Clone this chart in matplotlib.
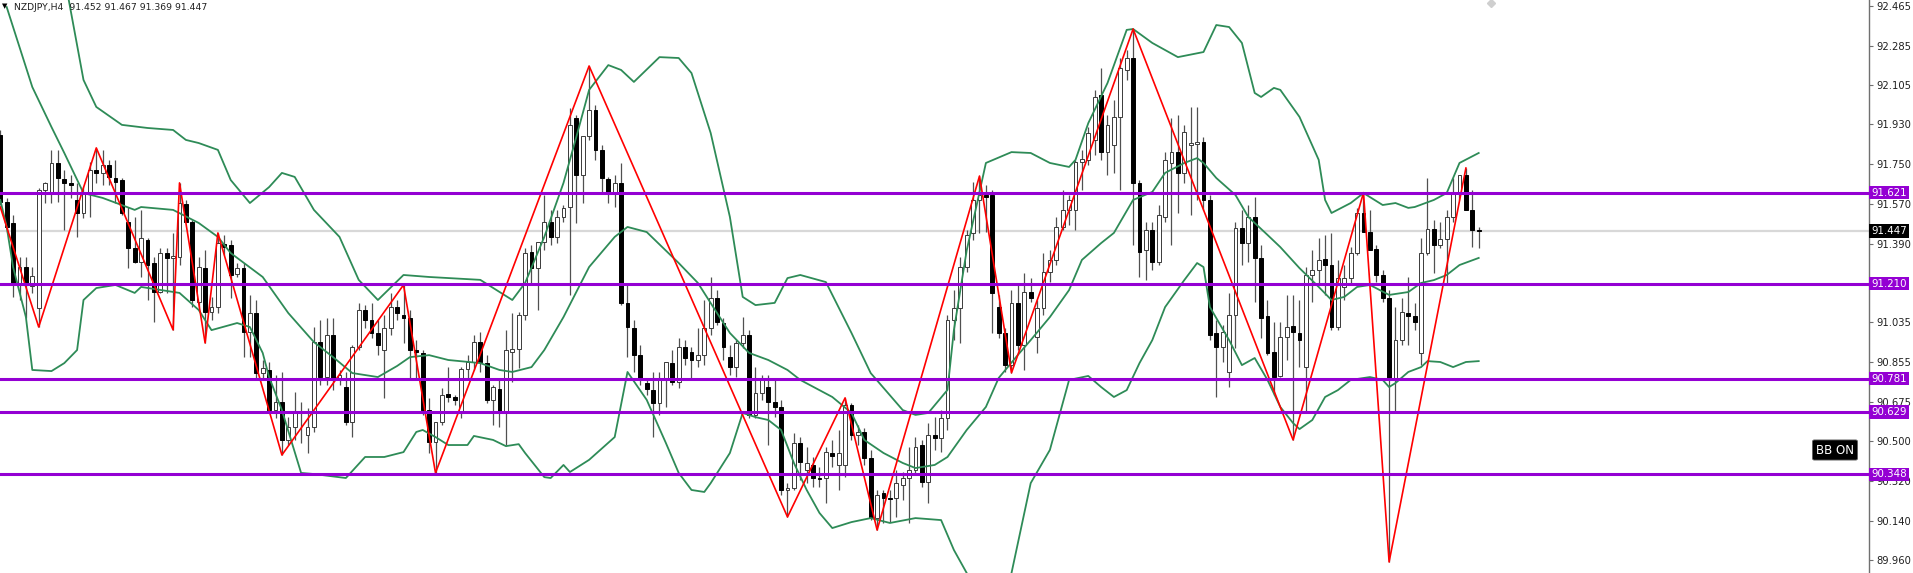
import matplotlib
matplotlib.use("Agg")
import matplotlib.pyplot as plt
import matplotlib.transforms as mtransforms

# NZDJPY H4 candles (bar index 0..231)
opens = [91.882, 91.579, 91.484, 91.213, 91.285, 91.199, 91.100, 91.633, 91.624, 91.755,
         91.683, 91.665, 91.588, 91.529, 91.624, 91.723, 91.710, 91.746, 91.687, 91.678,
         91.489, 91.371, 91.308, 91.407, 91.303, 91.172, 91.348, 91.326, 91.331, 91.570,
         91.489, 91.127, 91.281, 91.082, 91.104, 91.389, 91.385, 91.254, 91.281, 90.992,
         91.077, 90.807, 90.820, 90.639, 90.675, 90.504, 90.563, 90.626, 90.526, 90.563,
         90.947, 90.788, 90.978, 90.775, 90.743, 90.585, 90.924, 91.091, 91.046, 90.987,
         90.910, 91.010, 91.104, 91.068, 91.055, 90.910, 90.897, 90.639, 90.495, 90.585,
         90.712, 90.698, 90.630, 90.824, 90.856, 90.947, 90.852, 90.685, 90.734, 90.626,
         90.901, 90.915, 91.068, 91.353, 91.281, 91.398, 91.489, 91.421, 91.511, 91.556,
         91.958, 91.701, 91.877, 91.994, 91.814, 91.683, 91.619, 91.665, 91.123, 91.010,
         90.888, 90.761, 90.730, 90.671, 90.779, 90.852, 90.766, 90.924, 90.901, 90.865,
         90.888, 91.010, 91.145, 91.032, 90.879, 90.834, 90.942, 90.978, 90.617, 90.716,
         90.743, 90.675, 90.653, 90.278, 90.287, 90.490, 90.368, 90.391, 90.332, 90.332,
         90.445, 90.391, 90.391, 90.662, 90.526, 90.540, 90.423, 90.151, 90.264, 90.242,
         90.242, 90.301, 90.332, 90.368, 90.481, 90.314, 90.526, 90.513, 90.603, 91.046,
         91.100, 91.285, 91.439, 91.588, 91.610, 91.610, 91.104, 90.987, 90.843, 91.123,
         90.933, 91.172, 90.969, 91.100, 91.263, 91.317, 91.466, 91.543, 91.543, 91.759,
         91.769, 91.859, 92.062, 91.805, 91.836, 91.963, 92.175, 92.229, 91.665, 91.362,
         91.452, 91.308, 91.511, 91.755, 91.805, 91.710, 91.836, 91.841, 91.850, 91.588,
         90.987, 90.924, 90.811, 91.068, 91.462, 91.394, 91.511, 91.326, 91.064, 90.901,
         90.793, 90.969, 91.019, 90.987, 90.834, 91.249, 91.272, 91.321, 91.294, 91.014,
         91.195, 91.236, 91.348, 91.529, 91.443, 91.367, 91.249, 91.145, 90.784, 90.956,
         91.077, 91.064, 90.897, 91.348, 91.457, 91.385, 91.412, 91.511, 91.624, 91.701,
         91.543, 91.452]
highs = [91.904, 91.597, 91.520, 91.330, 91.330, 91.285, 91.642, 91.669, 91.814, 91.814,
         91.723, 91.701, 91.665, 91.646, 91.759, 91.823, 91.814, 91.769, 91.769, 91.687,
         91.556, 91.511, 91.543, 91.416, 91.330, 91.371, 91.371, 91.439, 91.665, 91.588,
         91.498, 91.330, 91.362, 91.150, 91.439, 91.430, 91.407, 91.303, 91.303, 91.159,
         91.136, 90.865, 90.856, 90.797, 90.811, 90.608, 90.721, 90.675, 90.648, 91.014,
         91.046, 91.055, 91.055, 90.820, 90.811, 90.933, 91.123, 91.113, 91.123, 91.046,
         91.068, 91.168, 91.136, 91.204, 91.091, 90.956, 90.910, 90.694, 90.585, 90.739,
         90.833, 90.707, 90.833, 90.888, 90.978, 90.992, 90.888, 90.752, 90.775, 91.001,
         91.077, 91.082, 91.371, 91.385, 91.398, 91.610, 91.543, 91.543, 91.565, 92.003,
         91.972, 91.746, 92.193, 92.017, 91.836, 91.692, 91.701, 91.755, 91.204, 91.046,
         90.933, 90.775, 90.811, 90.811, 90.856, 90.910, 90.965, 90.956, 90.924, 91.010,
         91.136, 91.240, 91.181, 91.055, 90.933, 90.956, 91.059, 91.001, 90.834, 90.797,
         90.797, 90.775, 90.685, 90.310, 90.535, 90.517, 90.472, 90.427, 90.382, 90.472,
         90.504, 90.549, 90.694, 90.671, 90.571, 90.558, 90.459, 90.278, 90.278, 90.278,
         90.368, 90.359, 90.472, 90.517, 90.504, 90.580, 90.608, 90.639, 91.068, 91.181,
         91.330, 91.452, 91.669, 91.696, 91.656, 91.633, 91.159, 91.010, 91.181, 91.213,
         91.258, 91.236, 91.136, 91.348, 91.362, 91.511, 91.633, 91.610, 91.769, 91.814,
         91.917, 92.085, 92.184, 91.972, 92.040, 92.229, 92.265, 92.360, 91.678, 91.489,
         91.489, 91.565, 91.805, 91.958, 91.972, 91.927, 92.008, 92.008, 91.872, 91.610,
         91.046, 91.023, 91.168, 91.489, 91.543, 91.565, 91.601, 91.385, 91.136, 91.037,
         91.037, 91.159, 91.159, 91.136, 91.285, 91.362, 91.416, 91.430, 91.439, 91.317,
         91.294, 91.376, 91.552, 91.619, 91.543, 91.385, 91.272, 91.181, 91.104, 91.145,
         91.240, 91.123, 91.416, 91.687, 91.498, 91.489, 91.543, 91.687, 91.701, 91.732,
         91.633, 91.467]
lows = [91.565, 91.443, 91.150, 91.136, 91.055, 91.168, 91.014, 91.574, 91.574, 91.579,
        91.452, 91.597, 91.421, 91.507, 91.511, 91.665, 91.656, 91.656, 91.574, 91.520,
        91.281, 91.303, 91.240, 91.136, 91.037, 91.168, 91.168, 91.001, 91.294, 91.489,
        91.104, 91.104, 90.942, 91.046, 91.077, 91.339, 91.145, 91.240, 90.879, 90.879,
        90.784, 90.775, 90.630, 90.603, 90.436, 90.481, 90.504, 90.490, 90.445, 90.540,
        90.752, 90.752, 90.730, 90.752, 90.571, 90.517, 90.910, 91.010, 90.965, 90.888,
        90.694, 90.978, 91.046, 90.942, 90.775, 90.775, 90.617, 90.445, 90.355, 90.571,
        90.675, 90.662, 90.603, 90.775, 90.820, 90.811, 90.671, 90.571, 90.562, 90.481,
        90.766, 90.829, 91.046, 91.204, 91.091, 91.362, 91.385, 91.394, 91.489, 91.159,
        91.484, 91.574, 91.859, 91.769, 91.619, 91.574, 91.556, 91.114, 90.879, 90.811,
        90.752, 90.707, 90.517, 90.617, 90.653, 90.752, 90.739, 90.843, 90.784, 90.834,
        90.843, 90.978, 91.023, 90.865, 90.797, 90.788, 90.919, 90.603, 90.603, 90.685,
        90.481, 90.608, 90.256, 90.156, 90.278, 90.323, 90.310, 90.292, 90.292, 90.219,
        90.382, 90.278, 90.337, 90.504, 90.481, 90.391, 90.142, 90.097, 90.129, 90.133,
        90.156, 90.233, 90.129, 90.346, 90.292, 90.219, 90.459, 90.450, 90.549, 90.956,
        90.942, 91.263, 91.407, 91.439, 91.443, 90.987, 90.965, 90.811, 90.807, 90.910,
        90.820, 91.127, 90.897, 91.068, 91.217, 91.294, 91.452, 91.475, 91.452, 91.633,
        91.746, 91.791, 91.769, 91.701, 91.710, 91.633, 92.130, 91.385, 91.240, 91.227,
        91.272, 91.294, 91.489, 91.385, 91.529, 91.665, 91.520, 91.588, 91.543, 90.956,
        90.698, 90.856, 90.743, 90.919, 91.294, 91.308, 91.127, 90.965, 90.888, 90.707,
        90.788, 90.865, 90.504, 90.834, 90.626, 91.127, 91.213, 91.159, 91.001, 91.001,
        91.136, 91.213, 91.339, 91.443, 91.362, 91.217, 91.127, 89.953, 90.630, 90.933,
        90.933, 91.001, 90.843, 91.339, 91.258, 91.371, 91.213, 91.489, 91.588, 91.552,
        91.376, 91.369]
closes = [91.579, 91.466, 91.213, 91.285, 91.213, 91.245, 91.633, 91.665, 91.755, 91.687,
          91.665, 91.656, 91.529, 91.624, 91.723, 91.710, 91.746, 91.692, 91.669, 91.529,
          91.371, 91.308, 91.416, 91.294, 91.172, 91.348, 91.326, 91.335, 91.574, 91.489,
          91.136, 91.285, 91.082, 91.104, 91.394, 91.375, 91.249, 91.281, 90.992, 91.077,
          90.807, 90.829, 90.639, 90.675, 90.504, 90.563, 90.626, 90.630, 90.563, 90.947,
          90.788, 90.978, 90.775, 90.797, 90.585, 90.924, 91.091, 91.046, 90.987, 90.933,
          91.010, 91.104, 91.077, 91.055, 90.910, 90.901, 90.639, 90.495, 90.585, 90.707,
          90.698, 90.685, 90.824, 90.856, 90.947, 90.856, 90.685, 90.743, 90.626, 90.910,
          90.915, 91.068, 91.348, 91.281, 91.398, 91.489, 91.421, 91.511, 91.552, 91.927,
          91.701, 91.877, 91.994, 91.814, 91.687, 91.619, 91.665, 91.123, 91.014, 90.888,
          90.784, 90.734, 90.671, 90.779, 90.856, 90.766, 90.924, 90.874, 90.865, 90.888,
          91.010, 91.145, 91.037, 90.924, 90.834, 90.942, 90.978, 90.617, 90.716, 90.775,
          90.675, 90.653, 90.278, 90.287, 90.490, 90.404, 90.400, 90.332, 90.328, 90.450,
          90.432, 90.445, 90.662, 90.526, 90.540, 90.423, 90.151, 90.255, 90.242, 90.238,
          90.310, 90.332, 90.368, 90.472, 90.314, 90.526, 90.513, 90.603, 91.046, 91.100,
          91.285, 91.430, 91.588, 91.610, 91.601, 91.168, 90.987, 90.843, 91.123, 90.933,
          91.172, 91.145, 91.100, 91.263, 91.317, 91.466, 91.543, 91.588, 91.759, 91.773,
          91.891, 92.053, 91.805, 91.927, 91.963, 92.184, 92.229, 91.665, 91.353, 91.452,
          91.308, 91.520, 91.769, 91.805, 91.710, 91.895, 91.845, 91.850, 91.588, 90.978,
          90.924, 90.992, 91.068, 91.462, 91.394, 91.511, 91.326, 91.055, 90.897, 90.788,
          90.969, 91.014, 90.992, 90.956, 91.249, 91.272, 91.317, 91.294, 91.014, 91.236,
          91.236, 91.348, 91.529, 91.443, 91.362, 91.249, 91.145, 90.784, 90.956, 91.082,
          91.064, 91.037, 91.348, 91.457, 91.385, 91.412, 91.511, 91.624, 91.701, 91.543,
          91.452, 91.447]

# Bollinger band lines (bar index, price)
bb_upper_idx = [10, 13, 15, 19, 23, 27, 29, 31, 34, 36, 39, 42, 44, 46, 49, 53, 56, 59, 63, 67,
                75, 80, 82, 85, 88, 90, 92, 95, 97, 99, 103, 106, 108, 111, 114, 116, 118, 121,
                123, 125, 129, 133, 136, 141, 143, 145, 148, 149, 151, 154, 158, 161, 164, 167,
                168, 170, 173, 176, 177, 180, 184, 188, 190, 192, 194, 196, 197, 199, 200, 203,
                206, 207, 208, 211, 213, 216, 218, 220, 221, 224, 226, 228, 231]
bb_upper = [92.600, 92.130, 92.008, 91.927, 91.913, 91.904, 91.859, 91.845, 91.814, 91.678,
            91.574, 91.646, 91.710, 91.692, 91.543, 91.421, 91.227, 91.136, 91.249, 91.240,
            91.227, 91.136, 91.213, 91.421, 91.665, 91.872, 92.085, 92.197, 92.175, 92.121,
            92.233, 92.229, 92.161, 91.890, 91.511, 91.150, 91.113, 91.123, 91.235, 91.249,
            91.217, 90.987, 90.806, 90.639, 90.617, 90.626, 90.730, 91.000, 91.360, 91.755,
            91.804, 91.800, 91.755, 91.737, 91.769, 91.935, 92.116, 92.356, 92.360, 92.297,
            92.233, 92.256, 92.378, 92.369, 92.297, 92.071, 92.053, 92.094, 92.085, 91.963,
            91.769, 91.588, 91.529, 91.574, 91.619, 91.565, 91.574, 91.552, 91.556, 91.588,
            91.619, 91.755, 91.800]
bb_mid_idx = [1, 5, 8, 10, 13, 16, 21, 22, 27, 31, 34, 36, 41, 45, 49, 52, 55, 59, 62, 64,
              67, 70, 75, 78, 80, 83, 85, 88, 92, 96, 98, 101, 106, 109, 111, 114, 117, 120,
              123, 125, 130, 133, 135, 138, 141, 143, 146, 148, 151, 154, 156, 159, 161, 164,
              167, 169, 172, 174, 177, 180, 182, 185, 187, 188, 190, 193, 195, 198, 200, 203,
              206, 208, 210, 212, 214, 217, 220, 222, 224, 226, 228, 231]
bb_mid = [92.459, 92.098, 91.917, 91.800, 91.619, 91.597, 91.543, 91.556, 91.543, 91.484,
          91.421, 91.348, 91.240, 91.077, 90.946, 90.878, 90.806, 90.788, 90.838, 90.878,
          90.887, 90.865, 90.851, 90.820, 90.811, 90.833, 90.910, 91.059, 91.285, 91.421,
          91.466, 91.443, 91.303, 91.213, 91.122, 90.987, 90.897, 90.865, 90.820, 90.775,
          90.698, 90.626, 90.504, 90.445, 90.400, 90.377, 90.391, 90.427, 90.549, 90.653,
          90.784, 90.888, 90.955, 91.059, 91.181, 91.317, 91.393, 91.439, 91.588, 91.624,
          91.710, 91.755, 91.777, 91.755, 91.687, 91.610, 91.511, 91.430, 91.375, 91.280,
          91.195, 91.136, 91.150, 91.195, 91.204, 91.159, 91.172, 91.213, 91.226, 91.249,
          91.294, 91.326]
bb_lower_idx = [0, 1, 2, 4, 5, 8, 10, 12, 13, 15, 18, 21, 22, 28, 31, 33, 37, 39, 41, 42,
                44, 47, 49, 54, 57, 60, 63, 65, 66, 68, 70, 73, 74, 77, 79, 81, 82, 85, 86, 88,
                89, 92, 96, 98, 101, 104, 106, 108, 110, 111, 114, 116, 118, 120, 122, 124, 126,
                128, 130, 133, 136, 139, 143, 147, 149, 151, 155, 158, 161, 164, 167, 170, 172,
                174, 176, 178, 180, 182, 185, 187, 188, 189, 192, 194, 196, 198, 200, 202, 203,
                205, 207, 209, 211, 214, 216, 217, 218, 220, 222, 223, 225, 227, 229, 231]
bb_lower = [91.588, 91.466, 91.285, 91.059, 90.820, 90.815, 90.851, 90.910, 91.136, 91.190,
            91.204, 91.168, 91.195, 91.168, 91.091, 91.000, 91.032, 91.014, 90.897, 90.788,
            90.639, 90.355, 90.350, 90.332, 90.427, 90.427, 90.449, 90.540, 90.549, 90.517,
            90.481, 90.481, 90.522, 90.504, 90.476, 90.485, 90.445, 90.336, 90.332, 90.391,
            90.359, 90.414, 90.517, 90.811, 90.685, 90.490, 90.355, 90.278, 90.269, 90.309,
            90.445, 90.626, 90.607, 90.594, 90.549, 90.400, 90.278, 90.174, 90.106, 90.133,
            90.151, 90.129, 90.151, 90.142, 90.007, 89.903, 89.700, 89.903, 90.309, 90.459,
            90.775, 90.793, 90.743, 90.698, 90.729, 90.851, 90.955, 91.104, 91.226, 91.303,
            91.285, 91.104, 90.955, 90.842, 90.874, 90.775, 90.653, 90.580, 90.553, 90.594,
            90.698, 90.729, 90.775, 90.788, 90.775, 90.743, 90.761, 90.811, 90.833, 90.860,
            90.856, 90.833, 90.856, 90.860]

# ZigZag pivots
zz_idx = [0, 6, 15, 27, 28, 32, 34, 44, 63, 68, 92, 123, 132, 137, 153, 158, 177, 202, 213, 217, 229]
zz_price = [91.556, 91.014, 91.823, 91.001, 91.665, 90.942, 91.439, 90.436, 91.204, 90.355,
            92.193, 90.156, 90.694, 90.097, 91.696, 90.807, 92.360, 90.504, 91.621, 89.953, 91.732]

levels = [91.621, 91.210, 90.781, 90.629, 90.348]
bid = 91.447
yticks = [92.465, 92.285, 92.105, 91.930, 91.750, 91.570, 91.390, 91.035,
          90.855, 90.675, 90.500, 90.320, 90.140, 89.960]

W, H = 1913, 573
fig = plt.figure(figsize=(W / 100, H / 100), dpi=100)
ax = fig.add_axes([0, 0, 1869 / W, 1])
ax.set_xlim(-0.3 / 6.4, (1869 - 0.3) / 6.4)
ax.set_ylim(89.903, 92.491)

purple = '#9400d3'
green = '#2e8b57'

ax.axhline(bid, color='#d8d8d8', lw=1.6, zorder=1)

# candles
for i in range(len(closes)):
    o, h, l, c = opens[i], highs[i], lows[i], closes[i]
    ax.vlines(i, l, h, color='#505050', lw=0.9, zorder=2)
    bottom = min(o, c)
    height = max(abs(c - o), 0.004)
    if c >= o:
        ax.bar(i, height, bottom=bottom, width=0.62, color='white',
               edgecolor='#3a3a3a', linewidth=0.7, zorder=3)
    else:
        ax.bar(i, height, bottom=bottom, width=0.62, color='black',
               edgecolor='black', linewidth=0.7, zorder=3)

ax.plot(bb_upper_idx, bb_upper, color=green, lw=1.3, zorder=4)
ax.plot(bb_mid_idx, bb_mid, color=green, lw=1.3, zorder=4)
ax.plot(bb_lower_idx, bb_lower, color=green, lw=1.3, zorder=4)
ax.plot(zz_idx, zz_price, color='#ff0000', lw=1.2, zorder=5)

for lv in levels:
    ax.axhline(lv, color=purple, lw=2.2, zorder=6)

# right price scale
for s in ['top', 'left', 'bottom']:
    ax.spines[s].set_visible(False)
ax.spines['right'].set_color('#707070')
ax.spines['right'].set_linewidth(1)
ax.set_xticks([])
ax.yaxis.tick_right()
ax.set_yticks(yticks)
ax.set_yticklabels([f"{t:.3f}" for t in yticks])
ax.tick_params(axis='y', length=3, width=0.8, color='#707070', labelsize=7.2,
               labelcolor='#202020', pad=2)

trans = mtransforms.blended_transform_factory(ax.transAxes, ax.transData)
for lv in levels:
    ax.text(1.0012, lv, f"{lv:.3f}", transform=trans, ha='left', va='center',
            fontsize=7.4, color='white', zorder=10, clip_on=False,
            bbox=dict(boxstyle='square,pad=0.18', fc=purple, ec='none'))
ax.text(1.0012, bid, f"{bid:.3f}", transform=trans, ha='left', va='center',
        fontsize=7.4, color='white', zorder=10, clip_on=False,
        bbox=dict(boxstyle='square,pad=0.18', fc='black', ec='none'))

# header and widgets
fig.text(5 / W, 1 - 6 / H, '\u25bc', fontsize=5, color='black', ha='center', va='center')
fig.text(14 / W, 1 - 7 / H, 'NZDJPY,H4  91.452 91.467 91.369 91.447',
         fontsize=6.7, color='#202020', ha='left', va='center')
ax.plot([232.9], [92.478], marker='D', ms=4, color='#cfcfcf', clip_on=False, zorder=7)
fig.text(1835 / W, 1 - 450 / H, 'BB ON', fontsize=8.5, color='white', ha='center', va='center',
         bbox=dict(boxstyle='round,pad=0.3,rounding_size=0.15', fc='black', ec='#606060', lw=0.6))

fig.savefig('out.png', dpi=100, facecolor='white')
